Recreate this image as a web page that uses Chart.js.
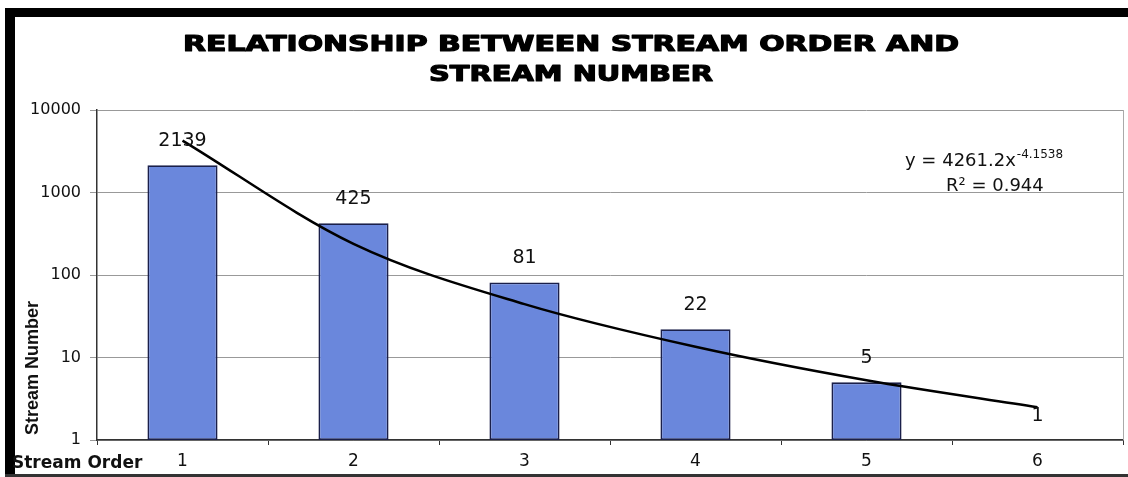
<!DOCTYPE html>
<html>
<head>
<meta charset="utf-8">
<script src="https://cdn.jsdelivr.net/npm/chart.js@4"></script>
<style>
  html, body { margin: 0; padding: 0; background: #fff; }
  #wrap { width: 1128px; height: 477px; position: relative; }
</style>
</head>
<body>
<div id="wrap"><canvas id="streamChart" width="1128" height="477"></canvas></div>
<script>
// data
const orders = ["1", "2", "3", "4", "5", "6"];
const streamCounts = [2139, 425, 81, 22, 5, 1];
// power trendline as it is drawn in the picture (y = 4261.2x^-4.1538)
const trendValues = [4260, 239, 44.4, 13.5, 5.3, 2.5];
const yTicks = [1, 10, 100, 1000, 10000];

const titleLines = ["RELATIONSHIP BETWEEN STREAM ORDER AND", "STREAM NUMBER"];

// frame, titles, equation and value labels
const decorations = {
  id: "decorations",
  beforeDraw(chart) {
    const c = chart.ctx;
    c.save();
    c.fillStyle = "#fff";
    c.fillRect(0, 0, chart.width, chart.height);
    c.restore();
  },
  afterDraw(chart) {
    const c = chart.ctx;
    const area = chart.chartArea;
    c.save();

    // black frame
    c.fillStyle = "#000";
    c.fillRect(5, 8, 10, 469);
    c.fillRect(5, 8, 1123, 9);
    c.fillStyle = "#333";
    c.fillRect(5, 474, 1123, 3);

    // right edge of plot
    c.strokeStyle = "#aaa";
    c.lineWidth = 1;
    c.beginPath();
    c.moveTo(area.right + 0.5, area.top);
    c.lineTo(area.right + 0.5, area.bottom);
    c.stroke();

    // title, stretched wide and heavy like the original
    c.fillStyle = "#000";
    c.strokeStyle = "#000";
    c.lineJoin = "round";
    c.font = "bold 22px 'DejaVu Sans'";
    c.textBaseline = "alphabetic";
    c.textAlign = "center";
    const widths = [776, 284];
    const baselines = [51, 81];
    titleLines.forEach((t, i) => {
      const w = c.measureText(t).width;
      const sx = widths[i] / w;
      c.save();
      c.translate(571, baselines[i]);
      c.scale(sx, 1);
      c.lineWidth = 1.2;
      c.strokeText(t, 0, 0);
      c.fillText(t, 0, 0);
      c.restore();
    });

    // value labels above bars
    const meta = chart.getDatasetMeta(1);
    c.font = "19px 'DejaVu Sans'";
    c.fillStyle = "#111";
    c.textAlign = "center";
    c.textBaseline = "middle";
    meta.data.forEach((bar, i) => {
      c.fillText(String(streamCounts[i]), bar.x, bar.y - 24);
    });

    // trendline equation
    c.textAlign = "left";
    c.textBaseline = "alphabetic";
    c.font = "18px 'DejaVu Sans'";
    const eq = "y = 4261.2x";
    c.fillText(eq, 905, 166);
    const eqW = c.measureText(eq).width;
    c.font = "12px 'DejaVu Sans'";
    c.fillText("-4.1538", 905 + eqW + 1, 158);
    c.font = "18px 'DejaVu Sans'";
    c.fillText("R² = 0.944", 946, 191);

    // axis titles
    c.font = "bold 17px 'DejaVu Sans'";
    c.fillText("Stream Order", 12, 468);
    c.save();
    c.translate(38, 368);
    c.rotate(-Math.PI / 2);
    c.textAlign = "center";
    c.font = "bold 18px 'Liberation Sans Narrow', 'Liberation Sans'";
    c.fillText("Stream Number", 0, 0);
    c.restore();

    c.restore();
  },
};

const ctx = document.getElementById("streamChart").getContext("2d");

const streamChart = new Chart(ctx, {
  data: {
    labels: orders,
    datasets: [
      {
        type: "line",
        label: "Power trend",
        data: trendValues,
        borderColor: "#000",
        borderWidth: 2.5,
        pointRadius: 0,
        cubicInterpolationMode: "monotone",
        fill: false,
        order: 0,
      },
      {
        type: "bar",
        label: "Stream Number",
        data: streamCounts,
        backgroundColor: "#6a87dc",
        borderColor: "#1a1f4a",
        borderWidth: 1.8,
        borderSkipped: false,
        barPercentage: 0.41,
        categoryPercentage: 1,
        order: 1,
      },
    ],
  },
  options: {
    responsive: false,
    animation: false,
    layout: {
      padding: { top: 110, right: 5, left: 0, bottom: 0 },
    },
    plugins: {
      legend: { display: false },
      title: { display: false },
      tooltip: { enabled: false },
    },
    scales: {
      x: {
        type: "category",
        offset: true,
        grid: {
          display: true,
          drawOnChartArea: false,
          offset: true,
          tickLength: 5,
          color: "#333",
        },
        border: { color: "#333", width: 1.5 },
        ticks: {
          color: "#111",
          padding: 6,
          font: { family: "DejaVu Sans", size: 17 },
        },
        afterFit(scale) {
          scale.height = 37;
        },
      },
      y: {
        type: "logarithmic",
        min: 1,
        max: 10000,
        afterBuildTicks(scale) {
          scale.ticks = yTicks.map((v) => ({ value: v }));
        },
        grid: {
          color: "#999",
          lineWidth: 1,
          tickLength: 7,
        },
        border: { color: "#333", width: 1.5 },
        ticks: {
          color: "#111",
          padding: 9,
          font: { family: "DejaVu Sans", size: 16 },
          callback: (v) => String(v),
        },
        afterFit(scale) {
          scale.width = 97;
        },
      },
    },
  },
  plugins: [decorations],
});
</script>
</body>
</html>
